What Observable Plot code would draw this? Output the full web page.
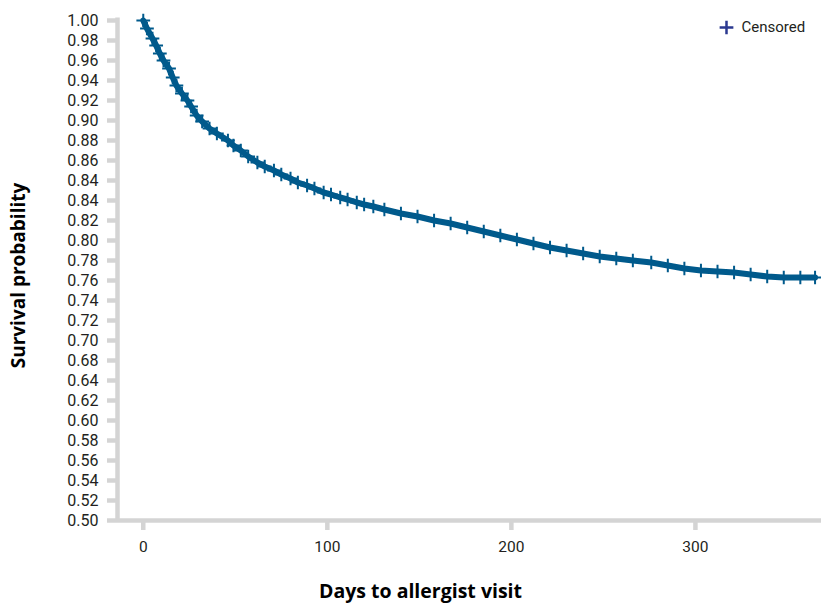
<!DOCTYPE html>
<html><head><meta charset="utf-8">
<script src="https://cdn.jsdelivr.net/npm/d3@7"></script>
<script src="https://cdn.jsdelivr.net/npm/@observablehq/plot@0.6"></script>
<style>html,body{margin:0;padding:0;background:#fff}#chart svg{display:block}</style>
</head><body><div id="chart"></div>
<script>
// Kaplan-Meier curve
const days = [0, 2, 5, 7, 9, 11, 14, 16, 18, 21, 24, 26, 29, 32, 36, 40, 46, 49, 53, 57, 62, 66, 71, 75, 80, 84, 89, 93, 98, 102, 107, 111, 116, 120, 125, 131, 140, 149, 158, 167, 176, 185, 194, 203, 212, 221, 230, 239, 248, 257, 266, 276, 285, 294, 303, 312, 321, 330, 339, 348, 357, 365];
const survival = [1.000, 0.992, 0.982, 0.975, 0.967, 0.960, 0.952, 0.943, 0.935, 0.927, 0.920, 0.914, 0.905, 0.899, 0.892, 0.887, 0.880, 0.875, 0.870, 0.864, 0.858, 0.854, 0.850, 0.846, 0.842, 0.838, 0.835, 0.832, 0.828, 0.826, 0.823, 0.821, 0.818, 0.816, 0.814, 0.811, 0.807, 0.804, 0.800, 0.797, 0.793, 0.789, 0.785, 0.781, 0.777, 0.773, 0.770, 0.767, 0.764, 0.762, 0.760, 0.758, 0.755, 0.752, 0.750, 0.749, 0.748, 0.746, 0.744, 0.743, 0.743, 0.743];

const xTicks = [0, 100, 200, 300];
const yTicks = [1.00, 0.98, 0.96, 0.94, 0.92, 0.90, 0.88, 0.86, 0.84, 0.82, 0.80, 0.78, 0.76, 0.74, 0.72, 0.70, 0.68, 0.66, 0.64, 0.62, 0.60, 0.58, 0.56, 0.54, 0.52, 0.50];
const yTickLabels = ["1.00", "0.98", "0.96", "0.94", "0.92", "0.90", "0.88", "0.86", "0.84", "0.84", "0.82", "0.80", "0.78", "0.76", "0.74", "0.72", "0.70", "0.68", "0.64", "0.62", "0.60", "0.58", "0.56", "0.54", "0.52", "0.50"];
const xTitle = "Days to allergist visit";
const yTitle = "Survival probability";
const legendLabel = "Censored";

const data = days.map((d, i) => ({day: d, s: survival[i]}));
const axisColor = "#d4d4d4";
const curveColor = "#005a8c";
const legendColor = "#2b3990";
const textColor = "#231f20";

const chart = Plot.plot({
  width: 821,
  height: 604,
  marginTop: 20,
  marginBottom: 84,
  marginLeft: 117,
  marginRight: 0,
  x: {domain: [-14, 368.5], axis: null},
  y: {domain: [0.5, 1], axis: null},
  style: {fontFamily: "Roboto, sans-serif", background: "white", overflow: "visible"},
  marks: [
    Plot.ruleX([-14], {y1: 0.5, y2: 1.0025, stroke: axisColor, strokeWidth: 4.5}),
    Plot.ruleY([0.5], {x1: -14, x2: 368.5, stroke: axisColor, strokeWidth: 4.5}),
    Plot.axisY(yTicks, {
      tickSize: 10, tickPadding: 9,
      tickFormat: d => yTickLabels[yTicks.indexOf(d)],
      stroke: axisColor, strokeWidth: 4.5, fill: textColor, fontSize: 16, label: null
    }),
    Plot.axisX(xTicks, {
      tickSize: 10, tickPadding: 10,
      stroke: axisColor, strokeWidth: 4.5, fill: textColor, fontSize: 15.5, label: null
    }),
    Plot.line(data, {x: "day", y: "s", stroke: curveColor, strokeWidth: 6}),
    Plot.dot(data, {x: "day", y: "s", symbol: "plus", r: 4.5, stroke: curveColor, strokeWidth: 2}),
    Plot.dot([legendLabel], {frameAnchor: "top-right", dx: -95, dy: 7, symbol: "plus", r: 4.5, stroke: legendColor, strokeWidth: 2.5}),
    Plot.text([legendLabel], {frameAnchor: "top-right", dx: -80, dy: 7, textAnchor: "start", lineAnchor: "middle", fontSize: 15, letterSpacing: 1, fill: textColor}),
    Plot.text([yTitle], {frameAnchor: "left", dx: -99, dy: 5, rotate: -90, textAnchor: "middle", lineAnchor: "middle", fontSize: 19, fontWeight: "bold", fontFamily: "'Open Sans', sans-serif", fill: "#000"}),
    Plot.text([xTitle], {frameAnchor: "bottom", dx: -49, dy: 77, textAnchor: "middle", lineAnchor: "bottom", fontSize: 19.5, fontWeight: "bold", fontFamily: "'Open Sans', sans-serif", fill: "#000"})
  ]
});
document.getElementById("chart").appendChild(chart);
</script>
</body></html>
